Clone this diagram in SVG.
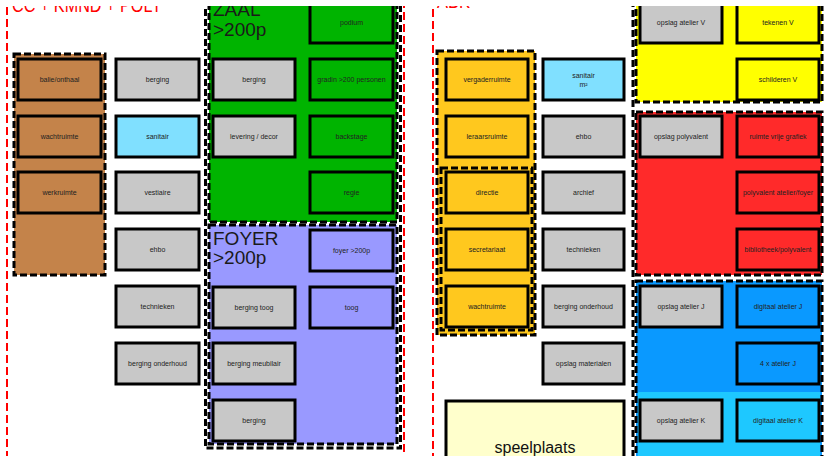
<svg xmlns="http://www.w3.org/2000/svg" width="826" height="456" viewBox="0 0 826 456">
<defs>
<style>
.box{stroke:#000;stroke-width:3}
.g{fill:#c8c8c8}
.lbl{font-family:"Liberation Sans",Arial,sans-serif;font-size:7px;fill:#222;text-anchor:middle;dominant-baseline:central}
.grp{stroke:#000;stroke-width:3;stroke-dasharray:7 3}
.red{stroke:#ff0000;stroke-width:2;stroke-dasharray:8 4;fill:none}
.big{font-family:"Liberation Sans",Arial,sans-serif;font-size:19px;fill:#1a1a1a}
.title{font-family:"Liberation Sans",Arial,sans-serif;font-size:20px;fill:#ff0000}
</style>
<clipPath id="clip"><rect x="0" y="6" width="826" height="450"/></clipPath>
</defs>
<rect width="826" height="456" fill="#fff"/>
<g clip-path="url(#clip)">
<g id="frames">
<line class="red" x1="7" y1="7" x2="7" y2="470"/>
<line class="red" x1="404" y1="0" x2="404" y2="470"/>
<line class="red" x1="433" y1="9" x2="433" y2="470"/>
<line class="grp" x1="633" y1="0" x2="633" y2="470" fill="none"/>
</g>
<g id="grp-onthaal">
<rect class="grp" x="14" y="54" width="91" height="221" fill="#c4834a"/>
</g>
<g id="grp-zaal-foyer">
<rect class="grp" x="205.5" y="-10" width="195" height="458" fill="none"/>
<rect class="grp" x="209" y="-10" width="188" height="232" fill="#00b400"/>
<rect class="grp" x="209" y="225" width="188" height="219" fill="#9999ff"/>
<text class="big" x="213" y="16">ZAAL</text>
<text class="big" x="213" y="36">&gt;200p</text>
<text class="big" x="213" y="245" fill="#22224a">FOYER</text>
<text class="big" x="213" y="264" fill="#22224a">&gt;200p</text>
</g>
<g id="grp-abk">
<rect class="grp" x="437" y="51" width="98" height="284" fill="#ffc81e"/>
<rect class="grp" x="441" y="168" width="91" height="162" fill="none"/>
</g>
<g id="grp-v">
<rect class="grp" x="636" y="-10" width="186" height="112" fill="#ffff00"/>
</g>
<g id="grp-poly">
<rect class="grp" x="636" y="112" width="186" height="163" fill="#ff2a2a"/>
</g>
<g id="grp-j">
<rect class="grp" x="636" y="281" width="186" height="190" fill="#0a99ff"/>
<rect x="638" y="392" width="182" height="70" fill="#1ec8ff"/>
</g>

<g id="n-balie"><rect class="box" x="18" y="59" width="83" height="41" fill="#c4834a"/><text class="lbl" x="59.5" y="79.5">balie/onthaal</text></g>
<g id="n-wachtruimte1"><rect class="box" x="18" y="116" width="83" height="41" fill="#c4834a"/><text class="lbl" x="59.5" y="136.5">wachtruimte</text></g>
<g id="n-werkruimte"><rect class="box" x="18" y="172" width="83" height="41" fill="#c4834a"/><text class="lbl" x="59.5" y="192.5">werkruimte</text></g>

<g id="n-berging1"><rect class="box g" x="116" y="59" width="83" height="41"/><text class="lbl" x="157.5" y="79.5">berging</text></g>
<g id="n-sanitair1"><rect class="box" x="116" y="116" width="83" height="41" fill="#80e0ff"/><text class="lbl" x="157.5" y="136.5">sanitair</text></g>
<g id="n-vestiaire"><rect class="box g" x="116" y="172" width="83" height="41"/><text class="lbl" x="157.5" y="192.5">vestiaire</text></g>
<g id="n-ehbo1"><rect class="box g" x="116" y="229" width="83" height="41"/><text class="lbl" x="157.5" y="249.5">ehbo</text></g>
<g id="n-technieken1"><rect class="box g" x="116" y="286" width="83" height="41"/><text class="lbl" x="157.5" y="306.5">technieken</text></g>
<g id="n-bergingonderhoud1"><rect class="box g" x="116" y="343" width="83" height="41"/><text class="lbl" x="157.5" y="363.5">berging onderhoud</text></g>

<g id="n-podium"><rect class="box" x="310" y="-2" width="83" height="45" fill="#00b400"/><text class="lbl" x="351.5" y="22">podium</text></g>
<g id="n-berging-zaal"><rect class="box g" x="213" y="59" width="82" height="41"/><text class="lbl" x="254" y="79.5">berging</text></g>
<g id="n-gradin"><rect class="box" x="310" y="59" width="83" height="41" fill="#00b400"/><text class="lbl" x="351.5" y="79.5">gradin &gt;200 personen</text></g>
<g id="n-levering"><rect class="box g" x="213" y="116" width="82" height="41"/><text class="lbl" x="254" y="136.5">levering / decor</text></g>
<g id="n-backstage"><rect class="box" x="310" y="116" width="83" height="41" fill="#00b400"/><text class="lbl" x="351.5" y="136.5">backstage</text></g>
<g id="n-regie"><rect class="box" x="310" y="172" width="83" height="41" fill="#00b400"/><text class="lbl" x="351.5" y="192.5">regie</text></g>

<g id="n-foyer"><rect class="box" x="310" y="230" width="83" height="41" fill="#9999ff"/><text class="lbl" x="351.5" y="250.5">foyer &gt;200p</text></g>
<g id="n-bergingtoog"><rect class="box g" x="213" y="287" width="82" height="41"/><text class="lbl" x="254" y="307.5">berging toog</text></g>
<g id="n-toog"><rect class="box" x="310" y="287" width="83" height="41" fill="#9999ff"/><text class="lbl" x="351.5" y="307.5">toog</text></g>
<g id="n-bergingmeubilair"><rect class="box g" x="213" y="343" width="82" height="41"/><text class="lbl" x="254" y="363.5">berging meubilair</text></g>
<g id="n-berging-foyer"><rect class="box g" x="213" y="400" width="82" height="41"/><text class="lbl" x="254" y="420.5">berging</text></g>

<g id="n-vergaderruimte"><rect class="box" x="446" y="59" width="82" height="41" fill="#ffc81e"/><text class="lbl" x="487" y="79.5">vergaderruimte</text></g>
<g id="n-leraarsruimte"><rect class="box" x="446" y="116" width="82" height="41" fill="#ffc81e"/><text class="lbl" x="487" y="136.5">leraarsruimte</text></g>
<g id="n-directie"><rect class="box" x="446" y="172" width="82" height="41" fill="#ffc81e"/><text class="lbl" x="487" y="192.5">directie</text></g>
<g id="n-secretariaat"><rect class="box" x="446" y="229" width="82" height="41" fill="#ffc81e"/><text class="lbl" x="487" y="249.5">secretariaat</text></g>
<g id="n-wachtruimte2"><rect class="box" x="446" y="286" width="82" height="41" fill="#ffc81e"/><text class="lbl" x="487" y="306.5">wachtruimte</text></g>

<g id="n-sanitair2"><rect class="box" x="543" y="59" width="81" height="41" fill="#80e0ff"/><text class="lbl" x="583.5" y="75.5">sanitair</text><text class="lbl" x="583.5" y="84.5">m²</text></g>
<g id="n-ehbo2"><rect class="box g" x="543" y="116" width="81" height="41"/><text class="lbl" x="583.5" y="136.5">ehbo</text></g>
<g id="n-archief"><rect class="box g" x="543" y="172" width="81" height="41"/><text class="lbl" x="583.5" y="192.5">archief</text></g>
<g id="n-technieken2"><rect class="box g" x="543" y="229" width="81" height="41"/><text class="lbl" x="583.5" y="249.5">technieken</text></g>
<g id="n-bergingonderhoud2"><rect class="box g" x="543" y="286" width="81" height="41"/><text class="lbl" x="583.5" y="306.5">berging onderhoud</text></g>
<g id="n-opslagmaterialen"><rect class="box g" x="543" y="343" width="81" height="41"/><text class="lbl" x="583.5" y="363.5">opslag materialen</text></g>

<g id="n-speelplaats"><rect class="box" x="446" y="401" width="178" height="80" fill="#ffffcc"/><text x="535" y="453" font-family="Liberation Sans,Arial,sans-serif" font-size="16" fill="#111" text-anchor="middle">speelplaats</text></g>

<g id="n-opslagV"><rect class="box g" x="640" y="-2" width="82" height="45"/><text class="lbl" x="681" y="22">opslag atelier V</text></g>
<g id="n-tekenenV"><rect class="box" x="737" y="-2" width="82" height="45" fill="#ffff00"/><text class="lbl" x="778" y="22">tekenen V</text></g>
<g id="n-schilderenV"><rect class="box" x="737" y="59" width="82" height="41" fill="#ffff00"/><text class="lbl" x="778" y="79.5">schilderen V</text></g>
<g id="n-opslagpoly"><rect class="box g" x="640" y="116" width="82" height="41"/><text class="lbl" x="681" y="136.5">opslag polyvalent</text></g>
<g id="n-vrijegrafiek"><rect class="box" x="737" y="116" width="82" height="41" fill="#ff2a2a"/><text class="lbl" x="778" y="136.5">ruimte vrije grafiek</text></g>
<g id="n-polyatelier"><rect class="box" x="737" y="172" width="82" height="41" fill="#ff2a2a"/><text class="lbl" x="778" y="192.5">polyvalent atelier/foyer</text></g>
<g id="n-bibliotheek"><rect class="box" x="737" y="229" width="82" height="41" fill="#ff2a2a"/><text class="lbl" x="778" y="249.5">bibliotheek/polyvalent</text></g>
<g id="n-opslagJ"><rect class="box g" x="640" y="286" width="82" height="41"/><text class="lbl" x="681" y="306.5">opslag atelier J</text></g>
<g id="n-digitaalJ"><rect class="box" x="737" y="286" width="82" height="41" fill="#0a99ff"/><text class="lbl" x="778" y="306.5">digitaal atelier J</text></g>
<g id="n-4xJ"><rect class="box" x="737" y="343" width="82" height="41" fill="#0a99ff"/><text class="lbl" x="778" y="363.5">4 x atelier J</text></g>
<g id="n-opslagK"><rect class="box g" x="640" y="400" width="82" height="41"/><text class="lbl" x="681" y="420.5">opslag atelier K</text></g>
<g id="n-digitaalK"><rect class="box" x="737" y="400" width="82" height="41" fill="#1ec8ff"/><text class="lbl" x="778" y="420.5">digitaal atelier K</text></g>

<text class="title" x="12" y="12" textLength="150" lengthAdjust="spacingAndGlyphs">CC + KMND + POLY</text>
<text class="title" x="437" y="8" textLength="33" lengthAdjust="spacingAndGlyphs">ABK</text>
</g>
<g id="connectors"/>
</svg>
